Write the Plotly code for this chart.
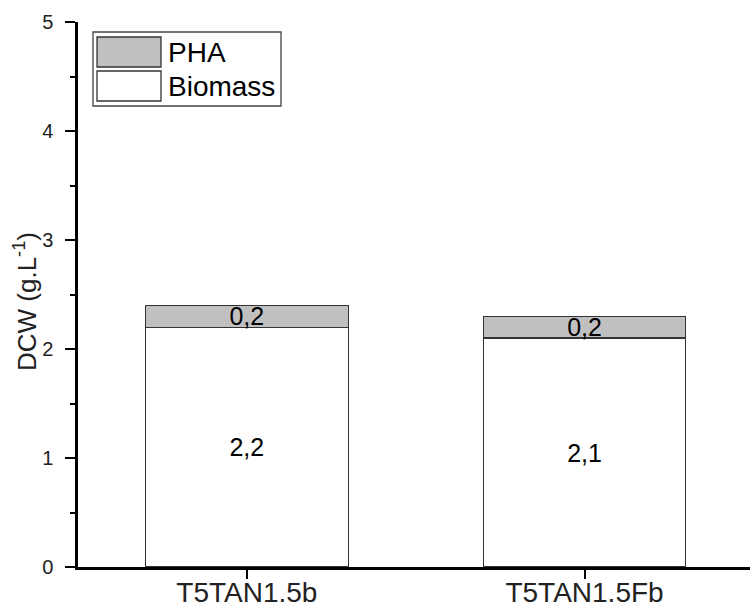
import plotly.graph_objects as go

categories = ["T5TAN1.5b", "T5TAN1.5Fb"]
biomass = [2.2, 2.1]
pha = [0.2, 0.2]
series_names = ["PHA", "Biomass"]

W, H = 750, 608
ML, MR, MT, MB = 78, 0, 22, 41
PW, PH = W - ML - MR, H - MT - MB

def px(x):
    return (x - ML) / PW

def py(y):
    return (H - MB - y) / PH

FONT = "Liberation Sans, Arial, sans-serif"
line_style = dict(color="#333333", width=1.3)

fig = go.Figure()
fig.add_trace(go.Bar(
    x=categories, y=biomass, name=series_names[1],
    marker=dict(color="white", line=line_style),
    width=0.6,
    texttemplate="%{y:.1f}", textposition="inside", insidetextanchor="middle",
    textangle=0, constraintext="none",
    textfont=dict(size=25, color="black", family=FONT),
    showlegend=False,
))
fig.add_trace(go.Bar(
    x=categories, y=pha, name=series_names[0],
    marker=dict(color="#c0c0c0", line=line_style),
    width=0.6,
    texttemplate="%{y:.1f}", textposition="inside", insidetextanchor="middle",
    textangle=0, constraintext="none",
    textfont=dict(size=25, color="black", family=FONT),
    showlegend=False,
))

# custom legend (large swatches like the reference)
shapes = [
    dict(type="rect", xref="paper", yref="paper", x0=px(93), x1=px(281), y0=py(106), y1=py(32),
         line=dict(color="#444444", width=1.3), fillcolor="white", layer="above"),
    dict(type="rect", xref="paper", yref="paper", x0=px(97), x1=px(161), y0=py(67), y1=py(37),
         line=dict(color="#333333", width=1.3), fillcolor="#c0c0c0", layer="above"),
    dict(type="rect", xref="paper", yref="paper", x0=px(97), x1=px(161), y0=py(101), y1=py(71),
         line=dict(color="#333333", width=1.3), fillcolor="white", layer="above"),
]
annotations = [
    dict(text=series_names[0], xref="paper", yref="paper", x=px(166), y=py(52),
         xanchor="left", yanchor="middle", showarrow=False,
         font=dict(size=28, color="black", family=FONT)),
    dict(text=series_names[1], xref="paper", yref="paper", x=px(166), y=py(87),
         xanchor="left", yanchor="middle", showarrow=False,
         font=dict(size=28, color="black", family=FONT)),
    dict(text="DCW (g.L<sup>-1</sup>)", xref="paper", yref="paper", x=px(25), y=py(302),
         xanchor="center", yanchor="middle", textangle=-90, showarrow=False,
         font=dict(size=26, color="#222222", family=FONT)),
]

fig.update_layout(
    width=W, height=H,
    margin=dict(l=ML, r=MR, t=MT, b=MB, autoexpand=False),
    barmode="stack",
    separators=",.",
    plot_bgcolor="white", paper_bgcolor="white",
    font=dict(family=FONT, color="#222222"),
    shapes=shapes, annotations=annotations,
    showlegend=False,
)
fig.update_xaxes(
    range=[-0.5, 1.49], showline=True, linecolor="black", linewidth=2.5,
    ticks="outside", ticklen=9, tickwidth=2, tickcolor="black",
    tickfont=dict(size=28, color="#222222"), showgrid=False, zeroline=False,
    ticklabelstandoff=-10, automargin=False,
)
fig.update_yaxes(
    range=[0, 5], dtick=1, showline=True, linecolor="black", linewidth=2.5,
    ticks="outside", ticklen=10, tickwidth=2, tickcolor="black",
    minor=dict(dtick=0.5, ticks="outside", ticklen=5, tickwidth=2, tickcolor="black"),
    tickfont=dict(size=20, color="#222222"), showgrid=False, zeroline=False,
    ticklabelstandoff=8, automargin=False,
)

fig.write_html("out.html")
